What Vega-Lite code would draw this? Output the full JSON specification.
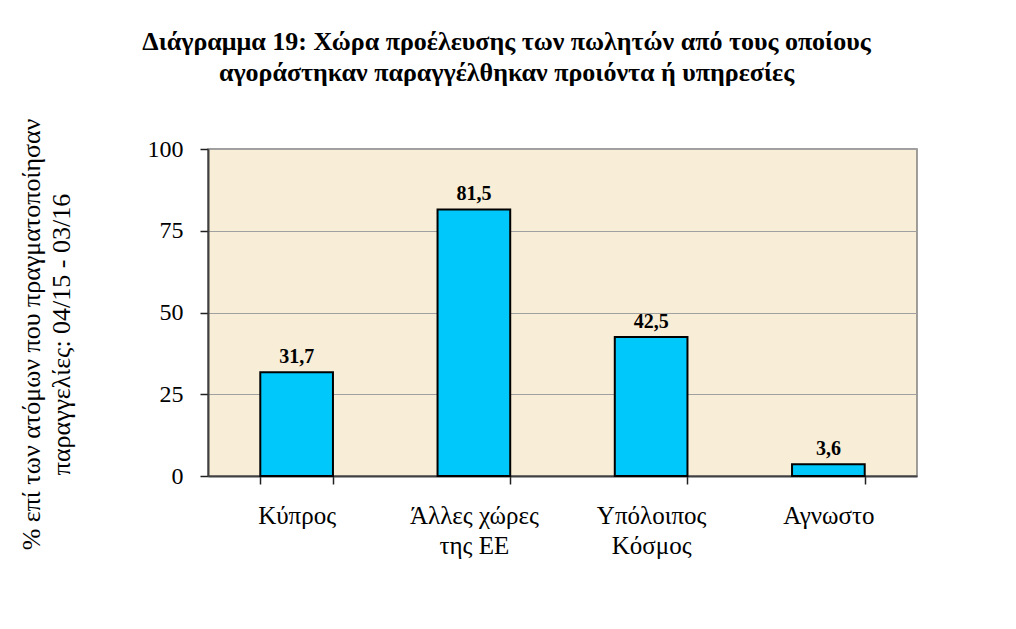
{
  "$schema": "https://vega.github.io/schema/vega-lite/v6.json",
  "width": 709,
  "height": 327,
  "autosize": {"type": "none"},
  "padding": {"left": 208, "top": 149, "right": 99, "bottom": 153},
  "background": "white",
  "config": {
    "locale": {"number": {"decimal": ",", "thousands": ".", "grouping": [3], "currency": ["", "€"]}},
    "view": {"fill": "#F8EDD6", "stroke": "#808080", "strokeWidth": 1.5},
    "font": "Liberation Serif"
  },
  "title": {
    "text": ["Διάγραμμα 19: Χώρα προέλευσης των πωλητών από τους οποίους", "αγοράστηκαν παραγγέλθηκαν προιόντα ή υπηρεσίες"],
    "font": "Liberation Serif",
    "fontSize": 26,
    "fontWeight": "bold",
    "color": "black",
    "lineHeight": 31,
    "anchor": "middle",
    "dx": -56,
    "offset": 32
  },
  "data": {
    "values": [
      {"country": "Κύπρος", "value": 31.7},
      {"country": "Άλλες χώρες της ΕΕ", "value": 81.5},
      {"country": "Υπόλοιπος Κόσμος", "value": 42.5},
      {"country": "Αγνωστο", "value": 3.6}
    ]
  },
  "encoding": {
    "x": {
      "field": "country",
      "type": "nominal",
      "sort": null,
      "scale": {"paddingInner": 0.59, "paddingOuter": 0.295},
      "axis": {
        "title": null,
        "labelAngle": 0,
        "labelFont": "Liberation Serif",
        "labelFontSize": 25,
        "labelColor": "black",
        "labelLineHeight": 30,
        "labelPadding": 19,
        "labelExpr": "datum.value == 'Άλλες χώρες της ΕΕ' ? ['Άλλες χώρες', 'της ΕΕ'] : datum.value == 'Υπόλοιπος Κόσμος' ? ['Υπόλοιπος', 'Κόσμος'] : datum.value",
        "tickBand": "extent",
        "tickSize": 8,
        "tickColor": "#202020",
        "tickWidth": 1.5,
        "domainColor": "#404040",
        "domainWidth": 2,
        "grid": false
      }
    },
    "y": {
      "field": "value",
      "type": "quantitative",
      "scale": {"domain": [0, 100], "nice": false},
      "axis": {
        "values": [0, 25, 50, 75, 100],
        "title": ["% επί των ατόμων που πραγματοποίησαν", "παραγγελίες: 04/15 - 03/16"],
        "titleFont": "Liberation Serif",
        "titleFontSize": 26,
        "titleFontWeight": "normal",
        "titleColor": "black",
        "titleLineHeight": 30,
        "titleAngle": -90,
        "titleAlign": "center",
        "titleBaseline": "top",
        "titleX": -190,
        "titleY": 185,
        "labelFont": "Liberation Serif",
        "labelFontSize": 24,
        "labelColor": "black",
        "labelPadding": 17,
        "tickSize": 8,
        "tickColor": "#202020",
        "tickWidth": 1.5,
        "domainColor": "#404040",
        "domainWidth": 2,
        "grid": true,
        "gridColor": "#A0A0A0",
        "gridWidth": 1.2
      }
    }
  },
  "layer": [
    {
      "mark": {"type": "bar", "fill": "#00C8FA", "stroke": "black", "strokeWidth": 2}
    },
    {
      "mark": {"type": "text", "baseline": "bottom", "dy": -5, "font": "Liberation Serif", "fontSize": 20, "fontWeight": "bold", "color": "black"},
      "encoding": {
        "text": {"field": "value", "type": "quantitative", "format": ".1f"}
      }
    }
  ]
}
